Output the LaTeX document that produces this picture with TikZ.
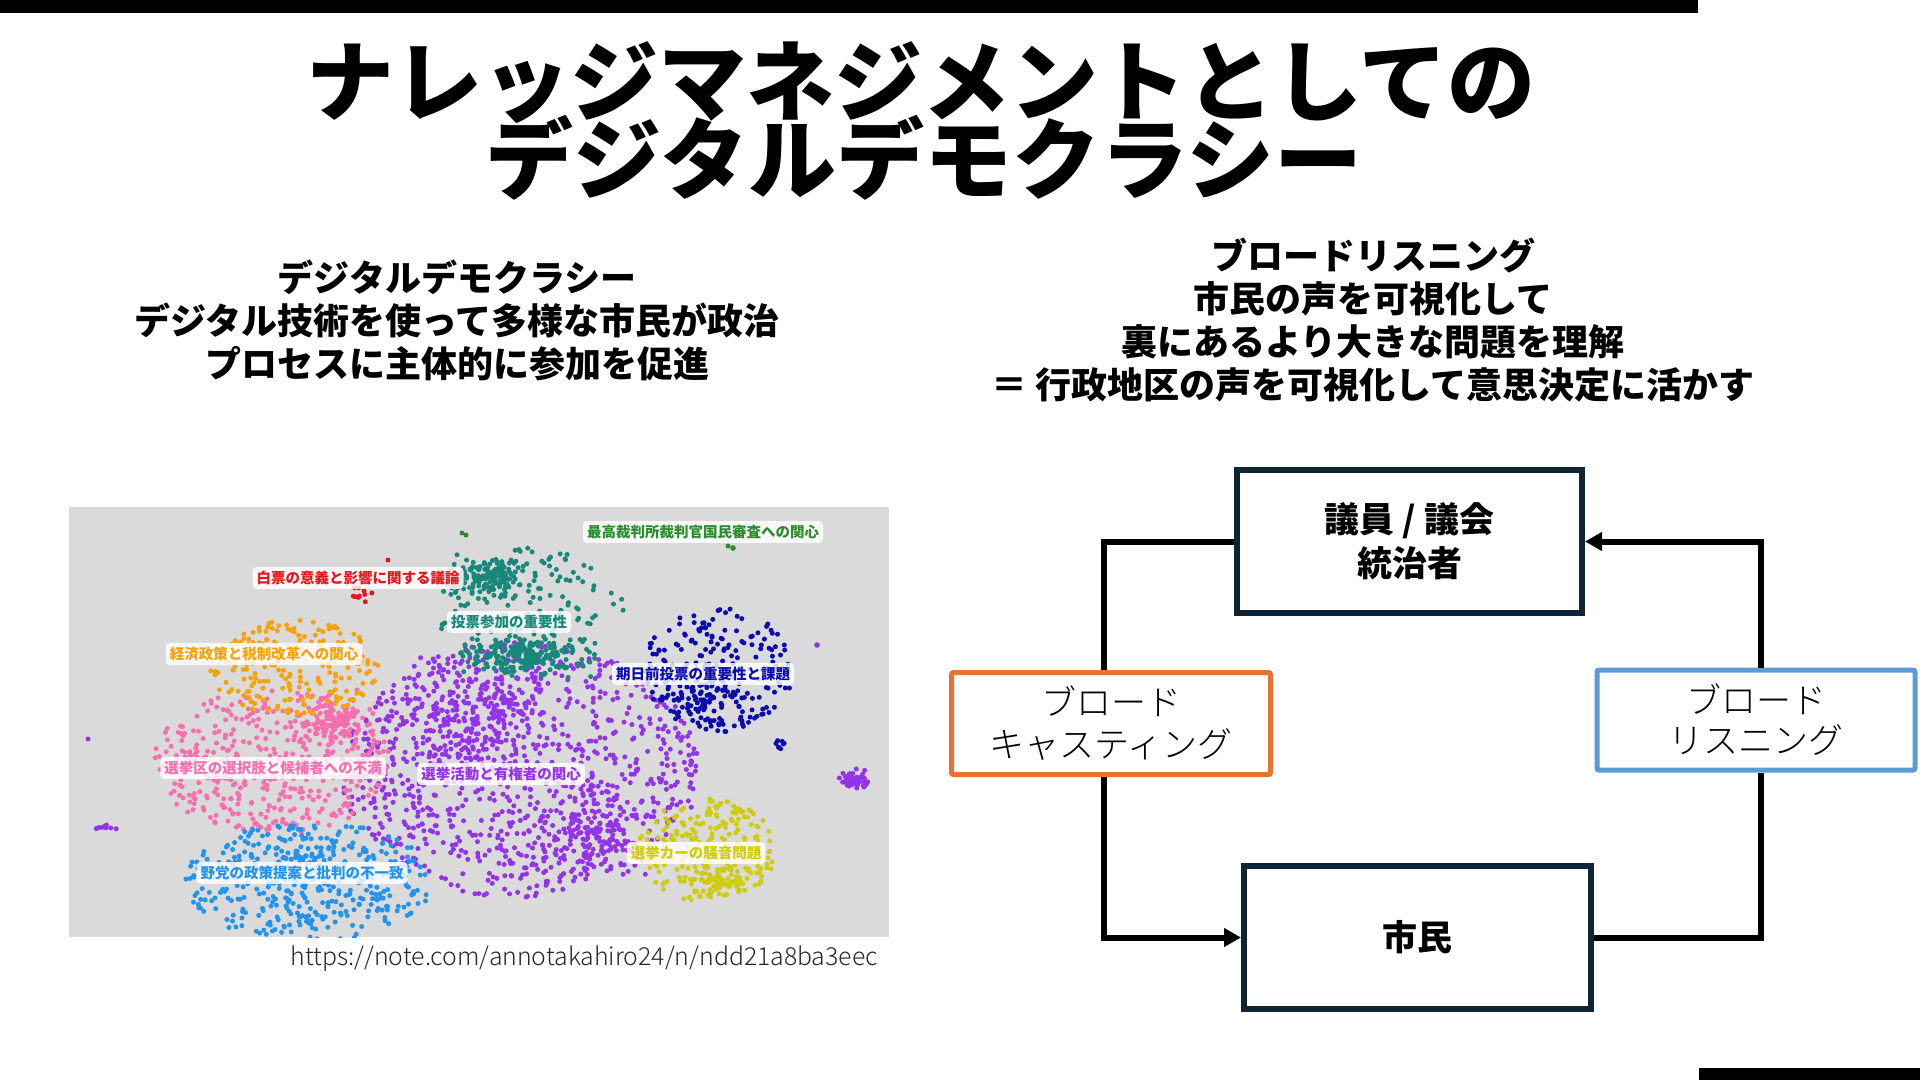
\documentclass[tikz,border=0pt]{standalone}
\usepackage{fontspec}
\setmainfont{Noto Sans CJK JP}
\newfontfamily\lightjp{Noto Sans CJK JP Light}
\usetikzlibrary{arrows.meta}
\definecolor{navybox}{HTML}{0E2535}
\definecolor{orgbox}{HTML}{E97132}
\definecolor{bluebox}{HTML}{5B9BD5}
\definecolor{plotbg}{HTML}{DADADA}
\definecolor{cpur}{HTML}{9333EA}
\definecolor{cpink}{HTML}{F670B0}
\definecolor{clb}{HTML}{2393EC}
\definecolor{cteal}{HTML}{17887A}
\definecolor{cnavy}{HTML}{0B0BB0}
\definecolor{corg}{HTML}{F4A30C}
\definecolor{cyel}{HTML}{CFCC0C}
\definecolor{cred}{HTML}{E8141C}
\definecolor{cgreen}{HTML}{2A8C2A}
% bell-shaped cluster
\newcommand\myscatter[7]{%
  \pgfmathsetseed{#7}%
  \foreach \k in {1,...,#6}{%
    \pgfmathsetmacro\px{#2+#4*(rand+rand+rand)/3}%
    \pgfmathsetmacro\py{#3+#5*(rand+rand+rand)/3}%
    \fill[#1] (\px,\py) circle[radius=2.5pt];
  }%
}
% uniform cluster inside an ellipse
\newcommand\myellipse[7]{%
  \pgfmathsetseed{#7}%
  \foreach \k in {1,...,#6}{%
    \pgfmathsetmacro\rr{sqrt(rnd)}%
    \pgfmathsetmacro\th{360*rnd}%
    \pgfmathsetmacro\px{#2+#4*\rr*cos(\th)}%
    \pgfmathsetmacro\py{#3+#5*\rr*sin(\th)}%
    \fill[#1] (\px,\py) circle[radius=2.5pt];
  }%
}
\tikzset{
  titletext/.style={font=\bfseries\fontsize{88}{88}\selectfont, inner sep=0pt},
  parabox/.style={font=\bfseries\fontsize{36}{43}\selectfont, align=center, inner sep=0pt},
  mainbox/.style={draw=navybox, line width=6pt, minimum width=345pt, minimum height=143pt,
    align=center, font=\bfseries\fontsize{35}{44}\selectfont},
  orgnode/.style={draw=orgbox, line width=5pt, rounded corners=2pt, minimum width=319pt,
    minimum height=102pt, align=center, font=\lightjp\fontsize{35}{42}\selectfont},
  bluenode/.style={draw=bluebox, line width=5pt, rounded corners=2pt, minimum width=318pt,
    minimum height=100pt, align=center, font=\lightjp\fontsize{35}{40}\selectfont},
  conn/.style={line width=6pt, black},
  arrowconn/.style={conn, -{Triangle[length=17pt,width=18pt]}},
  lab/.style={fill=white, fill opacity=0.82, text opacity=1, rounded corners=4pt,
    inner xsep=4pt, inner ysep=4pt, font=\bfseries\fontsize{14.5}{16}\selectfont},
}
\begin{document}
\begin{tikzpicture}[x=1pt,y=-1pt]
\useasboundingbox (0,0) rectangle (1920,1080);
% bars
\fill[black] (0,0) rectangle (1698,12.5);
\fill[black] (1699,1068) rectangle (1920,1080);
% title
\node[titletext] (title1) at (921,83) {ナレッジマネジメントとしての};
\node[titletext] (title2) at (924,158) {デジタルデモクラシー};
% paragraphs
\node[parabox] (leftpara) at (457,320) {デジタルデモクラシー\\デジタル技術を使って多様な市民が政治\\プロセスに主体的に参加を促進};
\node[parabox] (rightpara) at (1373,320) {ブロードリスニング\\市民の声を可視化して\\裏にあるより大きな問題を理解\\＝ 行政地区の声を可視化して意思決定に活かす};
% scatter plot
\fill[plotbg] (69,507) rectangle (889,937);
\begin{scope}
\clip (69,507) rectangle (889,937);
\myellipse{cpur}{520}{770}{180}{128}{900}{11}
\myscatter{cpur}{470}{720}{120}{90}{250}{12}
\myscatter{cpur}{600}{830}{80}{60}{150}{13}
\myscatter{cpur}{855}{780}{18}{12}{50}{91}
\myscatter{cpur}{105}{827}{14}{5}{8}{92}
\fill[cpur] (88,739) circle[radius=2.5pt];
\fill[cpur] (817,645) circle[radius=2.8pt];
\myellipse{cpink}{272}{762}{118}{74}{430}{21}
\myscatter{cpink}{335}{722}{55}{40}{120}{22}
\myellipse{clb}{310}{882}{125}{60}{380}{31}
\myscatter{clb}{300}{870}{90}{40}{80}{32}
\myscatter{cteal}{486}{577}{60}{26}{160}{41}
\myscatter{cteal}{526}{655}{80}{30}{200}{42}
\myellipse{cteal}{530}{612}{95}{65}{150}{43}
\myellipse{cnavy}{718}{670}{75}{62}{220}{51}
\myscatter{cnavy}{700}{700}{50}{40}{60}{52}
\myscatter{cnavy}{780}{745}{8}{12}{8}{53}
\myellipse{corg}{295}{668}{85}{48}{200}{61}
\myellipse{cyel}{707}{850}{70}{52}{220}{71}
\myscatter{cyel}{720}{880}{40}{25}{60}{72}
\myscatter{cred}{362}{594}{14}{9}{10}{81}
\fill[cred] (388,560) circle[radius=2.5pt];
\fill[cgreen] (462,533) circle[radius=2.5pt];
\fill[cgreen] (466,535) circle[radius=2.5pt];
\fill[cgreen] (728,546) circle[radius=2.5pt];
\fill[cgreen] (733,548) circle[radius=2.8pt];
\end{scope}
% scatter labels
\node[lab, text=cgreen] (lgreen) at (703,532) {最高裁判所裁判官国民審査への関心};
\node[lab, text=cred] (lred) at (358,578) {白票の意義と影響に関する議論};
\node[lab, text=cteal] (lteal) at (509,622) {投票参加の重要性};
\node[lab, text=corg] (lorg) at (264,654) {経済政策と税制改革への関心};
\node[lab, text=cnavy] (lnavy) at (703,674) {期日前投票の重要性と課題};
\node[lab, text=cpink] (lpink) at (273,768) {選挙区の選択肢と候補者への不満};
\node[lab, text=cpur] (lpur) at (501,774) {選挙活動と有権者の関心};
\node[lab, text=cyel] (lyel) at (696,853) {選挙カーの騒音問題};
\node[lab, text=clb] (llb) at (302,873) {野党の政策提案と批判の不一致};
% URL
\node[anchor=east, inner sep=0pt, font=\lightjp\fontsize{24.8}{28}\selectfont, text=black!85] (url) at (878,959) {https://note.com/annotakahiro24/n/ndd21a8ba3eec};
% diagram
\node[mainbox] (top) at (1409.5,541.5) {議員 / 議会\\統治者};
\node[mainbox, minimum width=347pt] (bottom) at (1417.5,937.5) {市民};
\node[orgnode] (bcast) at (1111,723.5) {ブロード\\キャスティング};
\node[bluenode] (blisten) at (1756,720) {ブロード\\リスニング};
\draw[conn] (top.west) -| ([xshift=-7pt]bcast.north);
\draw[arrowconn] ([xshift=-7pt]bcast.south) |- (bottom.west);
\draw[conn] (bottom.east) -| ([xshift=5pt]blisten.south);
\draw[arrowconn] ([xshift=5pt]blisten.north) |- (top.east);
\end{tikzpicture}
\end{document}
